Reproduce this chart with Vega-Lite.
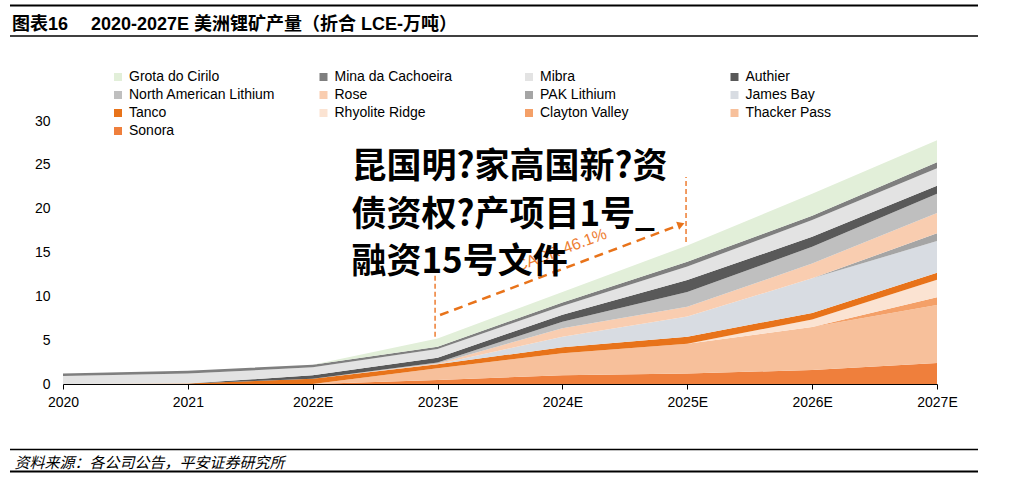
{
  "$schema": "https://vega.github.io/schema/vega-lite/v6.json",
  "width": 874,
  "height": 263,
  "autosize": {"type": "none"},
  "padding": {"left": 63, "top": 121, "right": 87, "bottom": 98},
  "background": "white",
  "config": {
    "view": {"stroke": null},
    "font": "Liberation Sans, Noto Sans CJK SC",
    "axis": {"grid": false}
  },
  "title": {
    "text": "图表16\u3000 2020-2027E 美洲锂矿产量（折合 LCE-万吨）",
    "anchor": "start",
    "frame": "group",
    "offset": 0,
    "dx": -51,
    "dy": 29,
    "fontSize": 18,
    "fontWeight": "bold",
    "font": "Liberation Sans, Noto Sans CJK SC",
    "color": "#000000"
  },
  "datasets": {
    "mines": [
      {"mine": "Sonora", "rank": 1, "year": 2020, "value": 0},
      {"mine": "Sonora", "rank": 1, "year": 2021, "value": 0},
      {"mine": "Sonora", "rank": 1, "year": 2022, "value": 0},
      {"mine": "Sonora", "rank": 1, "year": 2023, "value": 0.45},
      {"mine": "Sonora", "rank": 1, "year": 2024, "value": 1.0},
      {"mine": "Sonora", "rank": 1, "year": 2025, "value": 1.2},
      {"mine": "Sonora", "rank": 1, "year": 2026, "value": 1.6},
      {"mine": "Sonora", "rank": 1, "year": 2027, "value": 2.4},
      {"mine": "Thacker Pass", "rank": 2, "year": 2020, "value": 0},
      {"mine": "Thacker Pass", "rank": 2, "year": 2021, "value": 0},
      {"mine": "Thacker Pass", "rank": 2, "year": 2022, "value": 0},
      {"mine": "Thacker Pass", "rank": 2, "year": 2023, "value": 1.35},
      {"mine": "Thacker Pass", "rank": 2, "year": 2024, "value": 2.5},
      {"mine": "Thacker Pass", "rank": 2, "year": 2025, "value": 3.4},
      {"mine": "Thacker Pass", "rank": 2, "year": 2026, "value": 4.9},
      {"mine": "Thacker Pass", "rank": 2, "year": 2027, "value": 6.6},
      {"mine": "Clayton Valley", "rank": 3, "year": 2020, "value": 0},
      {"mine": "Clayton Valley", "rank": 3, "year": 2021, "value": 0},
      {"mine": "Clayton Valley", "rank": 3, "year": 2022, "value": 0},
      {"mine": "Clayton Valley", "rank": 3, "year": 2023, "value": 0},
      {"mine": "Clayton Valley", "rank": 3, "year": 2024, "value": 0},
      {"mine": "Clayton Valley", "rank": 3, "year": 2025, "value": 0},
      {"mine": "Clayton Valley", "rank": 3, "year": 2026, "value": 0},
      {"mine": "Clayton Valley", "rank": 3, "year": 2027, "value": 0.9},
      {"mine": "Rhyolite Ridge", "rank": 4, "year": 2020, "value": 0},
      {"mine": "Rhyolite Ridge", "rank": 4, "year": 2021, "value": 0},
      {"mine": "Rhyolite Ridge", "rank": 4, "year": 2022, "value": 0},
      {"mine": "Rhyolite Ridge", "rank": 4, "year": 2023, "value": 0},
      {"mine": "Rhyolite Ridge", "rank": 4, "year": 2024, "value": 0},
      {"mine": "Rhyolite Ridge", "rank": 4, "year": 2025, "value": 0},
      {"mine": "Rhyolite Ridge", "rank": 4, "year": 2026, "value": 0.85},
      {"mine": "Rhyolite Ridge", "rank": 4, "year": 2027, "value": 2.0},
      {"mine": "Tanco", "rank": 5, "year": 2020, "value": 0},
      {"mine": "Tanco", "rank": 5, "year": 2021, "value": 0.05},
      {"mine": "Tanco", "rank": 5, "year": 2022, "value": 0.6},
      {"mine": "Tanco", "rank": 5, "year": 2023, "value": 0.45},
      {"mine": "Tanco", "rank": 5, "year": 2024, "value": 0.7},
      {"mine": "Tanco", "rank": 5, "year": 2025, "value": 0.8},
      {"mine": "Tanco", "rank": 5, "year": 2026, "value": 0.75},
      {"mine": "Tanco", "rank": 5, "year": 2027, "value": 0.8},
      {"mine": "James Bay", "rank": 6, "year": 2020, "value": 0},
      {"mine": "James Bay", "rank": 6, "year": 2021, "value": 0},
      {"mine": "James Bay", "rank": 6, "year": 2022, "value": 0},
      {"mine": "James Bay", "rank": 6, "year": 2023, "value": 0},
      {"mine": "James Bay", "rank": 6, "year": 2024, "value": 1.2},
      {"mine": "James Bay", "rank": 6, "year": 2025, "value": 2.3},
      {"mine": "James Bay", "rank": 6, "year": 2026, "value": 3.95},
      {"mine": "James Bay", "rank": 6, "year": 2027, "value": 3.6},
      {"mine": "PAK Lithium", "rank": 7, "year": 2020, "value": 0},
      {"mine": "PAK Lithium", "rank": 7, "year": 2021, "value": 0},
      {"mine": "PAK Lithium", "rank": 7, "year": 2022, "value": 0},
      {"mine": "PAK Lithium", "rank": 7, "year": 2023, "value": 0},
      {"mine": "PAK Lithium", "rank": 7, "year": 2024, "value": 0},
      {"mine": "PAK Lithium", "rank": 7, "year": 2025, "value": 0},
      {"mine": "PAK Lithium", "rank": 7, "year": 2026, "value": 0},
      {"mine": "PAK Lithium", "rank": 7, "year": 2027, "value": 0.9},
      {"mine": "Rose", "rank": 8, "year": 2020, "value": 0},
      {"mine": "Rose", "rank": 8, "year": 2021, "value": 0},
      {"mine": "Rose", "rank": 8, "year": 2022, "value": 0},
      {"mine": "Rose", "rank": 8, "year": 2023, "value": 0.1},
      {"mine": "Rose", "rank": 8, "year": 2024, "value": 0.95},
      {"mine": "Rose", "rank": 8, "year": 2025, "value": 1.1},
      {"mine": "Rose", "rank": 8, "year": 2026, "value": 1.7},
      {"mine": "Rose", "rank": 8, "year": 2027, "value": 2.3},
      {"mine": "North American Lithium", "rank": 9, "year": 2020, "value": 0},
      {"mine": "North American Lithium", "rank": 9, "year": 2021, "value": 0},
      {"mine": "North American Lithium", "rank": 9, "year": 2022, "value": 0},
      {"mine": "North American Lithium", "rank": 9, "year": 2023, "value": 0.1},
      {"mine": "North American Lithium", "rank": 9, "year": 2024, "value": 0.75},
      {"mine": "North American Lithium", "rank": 9, "year": 2025, "value": 1.7},
      {"mine": "North American Lithium", "rank": 9, "year": 2026, "value": 1.9},
      {"mine": "North American Lithium", "rank": 9, "year": 2027, "value": 2.2},
      {"mine": "Authier", "rank": 10, "year": 2020, "value": 0},
      {"mine": "Authier", "rank": 10, "year": 2021, "value": 0},
      {"mine": "Authier", "rank": 10, "year": 2022, "value": 0.4},
      {"mine": "Authier", "rank": 10, "year": 2023, "value": 0.55},
      {"mine": "Authier", "rank": 10, "year": 2024, "value": 0.8},
      {"mine": "Authier", "rank": 10, "year": 2025, "value": 1.35},
      {"mine": "Authier", "rank": 10, "year": 2026, "value": 1.15},
      {"mine": "Authier", "rank": 10, "year": 2027, "value": 0.9},
      {"mine": "Mibra", "rank": 11, "year": 2020, "value": 0.9},
      {"mine": "Mibra", "rank": 11, "year": 2021, "value": 1.15},
      {"mine": "Mibra", "rank": 11, "year": 2022, "value": 0.9},
      {"mine": "Mibra", "rank": 11, "year": 2023, "value": 1.0},
      {"mine": "Mibra", "rank": 11, "year": 2024, "value": 1.0},
      {"mine": "Mibra", "rank": 11, "year": 2025, "value": 1.55},
      {"mine": "Mibra", "rank": 11, "year": 2026, "value": 1.9},
      {"mine": "Mibra", "rank": 11, "year": 2027, "value": 2.0},
      {"mine": "Mina da Cachoeira", "rank": 12, "year": 2020, "value": 0.3},
      {"mine": "Mina da Cachoeira", "rank": 12, "year": 2021, "value": 0.3},
      {"mine": "Mina da Cachoeira", "rank": 12, "year": 2022, "value": 0.3},
      {"mine": "Mina da Cachoeira", "rank": 12, "year": 2023, "value": 0.25},
      {"mine": "Mina da Cachoeira", "rank": 12, "year": 2024, "value": 0.4},
      {"mine": "Mina da Cachoeira", "rank": 12, "year": 2025, "value": 0.55},
      {"mine": "Mina da Cachoeira", "rank": 12, "year": 2026, "value": 0.5},
      {"mine": "Mina da Cachoeira", "rank": 12, "year": 2027, "value": 0.7},
      {"mine": "Grota do Cirilo", "rank": 13, "year": 2020, "value": 0},
      {"mine": "Grota do Cirilo", "rank": 13, "year": 2021, "value": 0},
      {"mine": "Grota do Cirilo", "rank": 13, "year": 2022, "value": 0},
      {"mine": "Grota do Cirilo", "rank": 13, "year": 2023, "value": 0.95},
      {"mine": "Grota do Cirilo", "rank": 13, "year": 2024, "value": 1.2},
      {"mine": "Grota do Cirilo", "rank": 13, "year": 2025, "value": 1.85},
      {"mine": "Grota do Cirilo", "rank": 13, "year": 2026, "value": 2.5},
      {"mine": "Grota do Cirilo", "rank": 13, "year": 2027, "value": 2.5}
    ]
  },
  "layer": [
    {
      "data": {"name": "mines"},
      "mark": {"type": "area", "interpolate": "linear"},
      "encoding": {
        "x": {
          "field": "year",
          "type": "quantitative",
          "scale": {"domain": [2020, 2027], "nice": false, "zero": false},
          "axis": {
            "values": [2020, 2021, 2022, 2023, 2024, 2025, 2026, 2027],
            "format": "d",
            "labelExpr": "datum.value >= 2022 ? datum.label + 'E' : datum.label",
            "domainColor": "#000000",
            "domainWidth": 1,
            "tickColor": "#000000",
            "tickSize": 5,
            "labelPadding": 6,
            "labelFontSize": 14,
            "labelColor": "#000000",
            "labelFont": "Liberation Sans",
            "labelFlush": false,
            "title": "资料来源：各公司公告，平安证券研究所",
            "titleX": -49,
            "titleY": 78,
            "titleAlign": "left",
            "titleAnchor": null,
            "titleBaseline": "middle",
            "titleFontStyle": "italic",
            "titleFontWeight": "normal",
            "titleFontSize": 15,
            "titleFont": "Noto Sans CJK SC",
            "titleColor": "#000000"
          }
        },
        "y": {
          "field": "value",
          "type": "quantitative",
          "stack": "zero",
          "scale": {"domain": [0, 30], "nice": false},
          "axis": {
            "values": [0, 5, 10, 15, 20, 25, 30],
            "domain": false,
            "ticks": false,
            "tickSize": 0,
            "labelPadding": 13,
            "labelFontSize": 14,
            "labelColor": "#000000",
            "labelFont": "Liberation Sans",
            "title": null
          }
        },
        "color": {
          "field": "mine",
          "type": "nominal",
          "scale": {
            "domain": ["Grota do Cirilo", "Mina da Cachoeira", "Mibra", "Authier", "North American Lithium", "Rose", "PAK Lithium", "James Bay", "Tanco", "Rhyolite Ridge", "Clayton Valley", "Thacker Pass", "Sonora"],
            "range": ["#e2efd9", "#7f7f7f", "#e3e3e3", "#595959", "#bfbfbf", "#f9cdb0", "#a5a5a5", "#d8dce2", "#e8731a", "#fbe3d2", "#f4a068", "#f7c09b", "#ef7f3c"]
          },
          "legend": {
            "title": null,
            "orient": "none",
            "direction": "horizontal",
            "legendX": 48,
            "legendY": -51,
            "columns": 4,
            "symbolType": "square",
            "symbolSize": 64,
            "symbolStrokeWidth": 0,
            "labelFontSize": 14,
            "labelFont": "Liberation Sans",
            "labelColor": "#000000",
            "labelOffset": 4,
            "rowPadding": 4,
            "columnPadding": 40.5,
            "gridAlign": "all",
            "labelLimit": 300,
            "padding": 0
          }
        },
        "order": {"field": "rank", "type": "quantitative"}
      }
    },
    {
      "data": {"values": [{}]},
      "mark": {"type": "rule", "color": "#000000", "strokeWidth": 2},
      "encoding": {
        "x": {"datum": 2019.5755, "type": "quantitative"},
        "x2": {"datum": 2027.3284},
        "y": {"datum": 43.17, "type": "quantitative"}
      }
    },
    {
      "data": {"values": [{}]},
      "mark": {"type": "rule", "color": "#000000", "strokeWidth": 1.5},
      "encoding": {
        "x": {"datum": 2019.5755, "type": "quantitative"},
        "x2": {"datum": 2027.3284},
        "y": {"datum": 39.70, "type": "quantitative"}
      }
    },
    {
      "data": {"values": [{}]},
      "mark": {"type": "rule", "color": "#000000", "strokeWidth": 1.5},
      "encoding": {
        "x": {"datum": 2019.5755, "type": "quantitative"},
        "x2": {"datum": 2027.3284},
        "y": {"datum": -7.47, "type": "quantitative"}
      }
    },
    {
      "data": {"values": [{}]},
      "mark": {"type": "rule", "color": "#000000", "strokeWidth": 2},
      "encoding": {
        "x": {"datum": 2019.5755, "type": "quantitative"},
        "x2": {"datum": 2027.3284},
        "y": {"datum": -9.98, "type": "quantitative"}
      }
    },
    {
      "data": {"values": [{}]},
      "mark": {"type": "rule", "color": "#ed7d31", "strokeWidth": 1.5, "strokeDash": [5, 3]},
      "encoding": {
        "x": {"datum": 2022.98, "type": "quantitative"},
        "y": {"datum": 5.4, "type": "quantitative"},
        "y2": {"datum": 12.8}
      }
    },
    {
      "data": {"values": [{}]},
      "mark": {"type": "rule", "color": "#ed7d31", "strokeWidth": 1.5, "strokeDash": [5, 3]},
      "encoding": {
        "x": {"datum": 2024.99, "type": "quantitative"},
        "y": {"datum": 16.2, "type": "quantitative"},
        "y2": {"datum": 23.6}
      }
    },
    {
      "data": {"values": [{}]},
      "mark": {"type": "rule", "color": "#e8731a", "strokeWidth": 2.5, "strokeDash": [9, 6]},
      "encoding": {
        "x": {"datum": 2023.02, "type": "quantitative"},
        "y": {"datum": 7.87, "type": "quantitative"},
        "x2": {"datum": 2024.93},
        "y2": {"datum": 18.1}
      }
    },
    {
      "data": {"values": [{}]},
      "mark": {"type": "point", "shape": "triangle-right", "filled": true, "color": "#e8731a", "size": 70, "angle": 339.5, "opacity": 1},
      "encoding": {
        "x": {"datum": 2024.95, "type": "quantitative"},
        "y": {"datum": 18.2, "type": "quantitative"}
      }
    },
    {
      "data": {"values": [{}]},
      "mark": {"type": "text", "text": "CAGR 46.1%", "color": "#ed7d31", "fontSize": 16, "angle": 339.5, "align": "center", "baseline": "middle", "font": "Liberation Sans"},
      "encoding": {
        "x": {"datum": 2023.99, "type": "quantitative"},
        "y": {"datum": 15.28, "type": "quantitative"}
      }
    },
    {
      "data": {"values": [{}]},
      "mark": {"type": "text", "text": ["昆国明?家高国新?资", "债资权?产项目1号_", "融资15号文件"], "color": "#000000", "fontSize": 35, "fontWeight": "bold", "font": "Noto Sans CJK SC", "align": "left", "baseline": "top", "lineHeight": 47.5},
      "encoding": {
        "x": {"datum": 2022.31, "type": "quantitative"},
        "y": {"datum": 26.65, "type": "quantitative"}
      }
    }
  ]
}
